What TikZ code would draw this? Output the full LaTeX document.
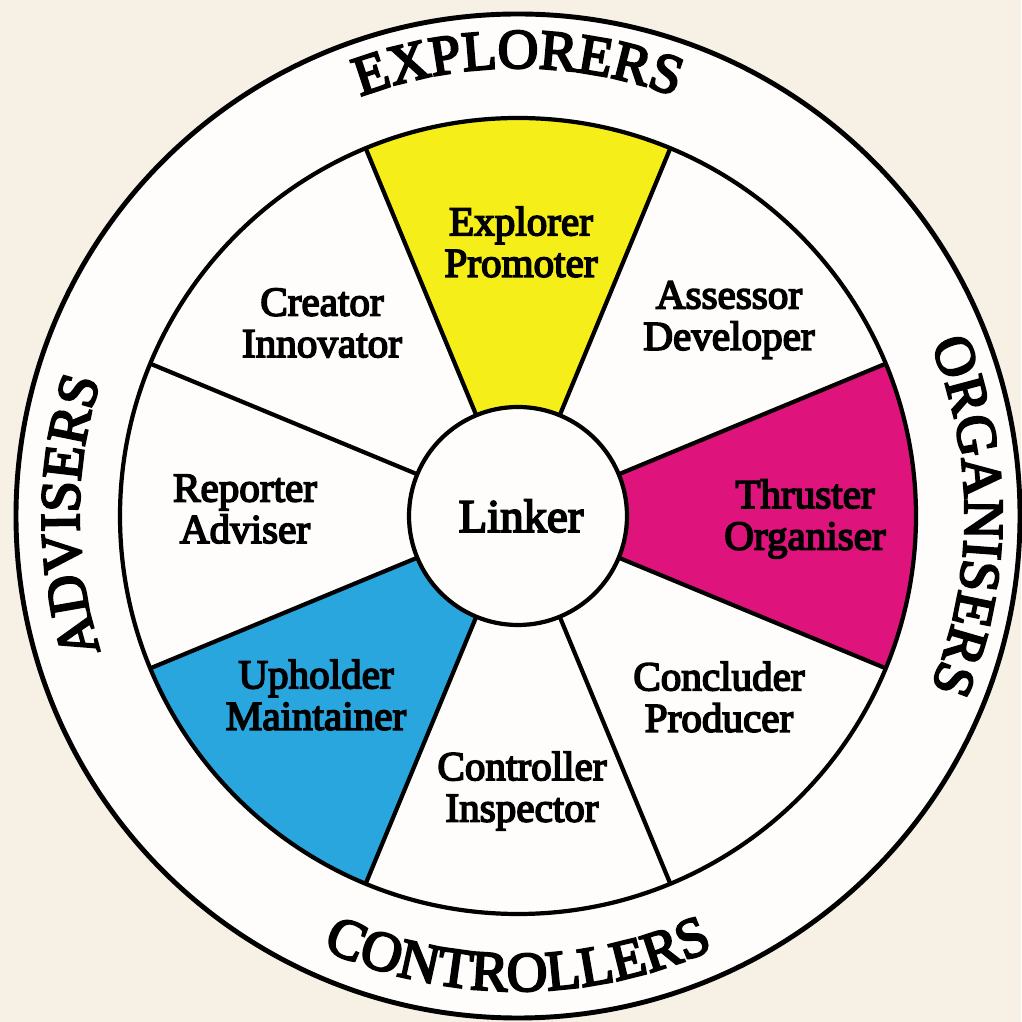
\documentclass[tikz,border=0pt]{standalone}
\usepackage{fontspec}
\setmainfont{Liberation Serif}[FakeBold=4]
\usetikzlibrary{decorations.text}

\definecolor{paper}{RGB}{246,240,229}
\definecolor{wheelwhite}{RGB}{254,253,251}
\definecolor{explorer}{RGB}{246,238,24}
\definecolor{thruster}{RGB}{222,20,124}
\definecolor{upholder}{RGB}{42,166,222}

\newcommand\ringfont{\fontsize{16}{18}\selectfont}
\newcommand\rolefont{\fontsize{11.7}{11.8}\selectfont}

\tikzset{
  role/.style={align=center, font=\rolefont, inner sep=0pt},
  ringtext/.style={decorate, decoration={text along path, text align=center, text={|\ringfont|#1}}}
}

\begin{document}
\begin{tikzpicture}[line width=1.2pt]
\useasboundingbox[fill=paper] (0,0) rectangle (10.21,10.22);
\coordinate (O) at (5.18,5.06);
\draw[fill=wheelwhite, line width=1.4pt] (O) circle (5.02);

% coloured sectors
\foreach \a/\c in {90/explorer, 0/thruster, 225/upholder}
  \fill[\c] (O) -- ++(\a-22.5:3.98) arc[start angle=\a-22.5, end angle=\a+22.5, radius=3.98] -- cycle;
\draw (O) circle (3.98);
\foreach \a in {22.5,67.5,...,337.5}
  \draw ([shift={(\a:1.09)}]O) -- ([shift={(\a:3.98)}]O);
\draw[fill=wheelwhite] (O) circle (1.09);

\node[role, font=\fontsize{13.3}{14}\selectfont] (linker) at (5.21,5.06) {Linker};
\foreach \p/\t/\n in {{5.21,7.80}/{Explorer\\Promoter}/explorer, {7.29,7.02}/{Assessor\\Developer}/assessor,
    {8.05,5.03}/{Thruster\\Organiser}/thruster, {7.19,3.25}/{Concluder\\Producer}/concluder,
    {5.22,2.31}/{Controller\\Inspector}/controller, {3.16,3.27}/{Upholder\\Maintainer}/upholder,
    {2.45,5.13}/{Reporter\\Adviser}/reporter, {3.22,6.99}/{Creator\\Innovator}/creator}
  \node[role] (\n) at (\p) {\t};

% names round the ring
\path[ringtext=EXPLORERS] ([shift={(135:4.48)}]O) arc[start angle=135, end angle=45, radius=4.48];
\path[ringtext=ORGANISERS] ([shift={(45:4.47)}]O) arc[start angle=45, end angle=-45, radius=4.47];
\path[ringtext=ADVISERS] ([shift={(225:4.39)}]O) arc[start angle=225, end angle=135, radius=4.39];
\path[ringtext=CONTROLLERS] ([shift={(215:4.75)}]O) arc[start angle=215, end angle=325, radius=4.75];
\end{tikzpicture}
\end{document}
